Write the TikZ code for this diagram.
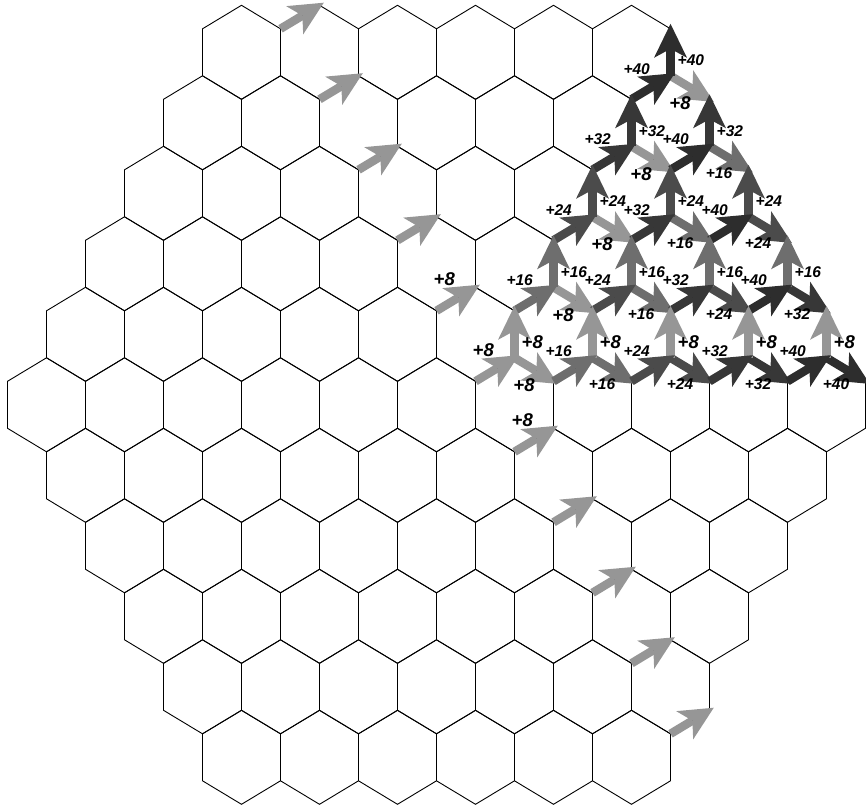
\documentclass[tikz,border=0pt]{standalone}
\usepackage{fontspec}
\newfontfamily\lblfont{Liberation Sans}
\usetikzlibrary{arrows.meta}
\definecolor{g8}{HTML}{969696}
\definecolor{g16}{HTML}{6E6E6E}
\definecolor{g24}{HTML}{4B4B4B}
\definecolor{g32}{HTML}{373737}
\definecolor{g40}{HTML}{2D2D2D}
\newcommand\gainlbl[1]{\ifnum#1<10 \fontsize{18.5}{19}\selectfont\else\fontsize{15.5}{16}\selectfont\fi+#1}
\tikzset{
  hexedge/.style={draw=black, line width=0.9pt, line join=miter},
  flow/.style={-{Stealth[length=34pt, width=33pt, inset=9pt, line width=0pt]}, line width=8.5pt, color=g#1, shorten >=-5pt},
  lbl/.style={font=\lblfont\bfseries\itshape, inner sep=0pt, text=black},
  inlbl/.style={lbl, anchor=south east, xshift=-1pt, yshift=13pt},
  uplbl/.style={lbl, anchor=west, xshift=7pt, yshift=-8pt},
  drlbl/.style={lbl, anchor=north, xshift=-10pt, yshift=-9pt},
}

\begin{document}
\begin{tikzpicture}[x=1pt, y=-1pt]
  \useasboundingbox (0,0) rectangle (866,805);
  % corners of the hex lattice
  \foreach \a in {0,...,22}
    \foreach \l in {0,...,23} {
      \pgfmathsetmacro\yy{5.3+70.5*floor(\l/2)+23.5*mod(\l,2)}
      \coordinate (p\a-\l) at ({7.5+39*\a}, \yy);
    }
  % board
  \foreach \j in {0,...,10} {
    \pgfmathtruncatemacro\off{abs(5-\j)}
    \pgfmathtruncatemacro\last{10-\off}
    \foreach \k in {0,...,\last} {
      \pgfmathtruncatemacro\a{\off+1+2*\k}
      \pgfmathtruncatemacro\al{\a-1}
      \pgfmathtruncatemacro\ar{\a+1}
      \pgfmathtruncatemacro\la{2*\j}
      \pgfmathtruncatemacro\lb{2*\j+1}
      \pgfmathtruncatemacro\lc{2*\j+2}
      \pgfmathtruncatemacro\ld{2*\j+3}
      \draw[hexedge] (p\a-\la) -- (p\ar-\lb) -- (p\ar-\lc) -- (p\a-\ld) -- (p\al-\lc) -- (p\al-\lb) -- cycle;
    }
  }
  % diagonal
  \foreach \k in {0,1,2,3,4,6,7,8,9,10} {
    \pgfmathtruncatemacro\s{7+\k}
    \pgfmathtruncatemacro\t{8+\k}
    \pgfmathtruncatemacro\la{2*\k}
    \pgfmathtruncatemacro\lb{2*\k+1}
    \draw[flow=8] (p\s-\lb) -- (p\t-\la);
  }
  \path (p11-9) -- node[midway, inlbl] {\gainlbl{8}} (p12-8);
  \path (p13-13) -- node[midway, inlbl] {\gainlbl{8}} (p14-12);
  % junctions of the triangle
  \foreach \r in {0,...,4}
    \foreach \c in {0,...,\r} {
      \pgfmathtruncatemacro\a{17-\r+2*\c}
      \pgfmathtruncatemacro\al{\a-1}
      \pgfmathtruncatemacro\ar{\a+1}
      \pgfmathtruncatemacro\l{2+2*\r}
      \pgfmathtruncatemacro\lu{\l-1}
      \pgfmathtruncatemacro\ld{\l+1}
      \pgfmathtruncatemacro\vin{8*(5-\r+\c)}
      \pgfmathtruncatemacro\vup{8*(5-\r)}
      \pgfmathtruncatemacro\vdr{8*(\c+1)}
      \draw[flow=\vdr] (p\a-\l) -- (p\ar-\ld);
      \draw[flow=\vup] (p\a-\l) -- (p\a-\lu);
      \draw[flow=\vin] (p\al-\ld) -- (p\a-\l);
    }
  % gains
  \foreach \r in {0,...,4}
    \foreach \c in {0,...,\r} {
      \pgfmathtruncatemacro\a{17-\r+2*\c}
      \pgfmathtruncatemacro\al{\a-1}
      \pgfmathtruncatemacro\ar{\a+1}
      \pgfmathtruncatemacro\l{2+2*\r}
      \pgfmathtruncatemacro\lu{\l-1}
      \pgfmathtruncatemacro\ld{\l+1}
      \pgfmathtruncatemacro\vin{8*(5-\r+\c)}
      \pgfmathtruncatemacro\vup{8*(5-\r)}
      \pgfmathtruncatemacro\vdr{8*(\c+1)}
      \path (p\al-\ld) -- node[midway, inlbl] {\gainlbl{\vin}} (p\a-\l);
      \path (p\a-\l) -- node[midway, uplbl] {\gainlbl{\vup}} (p\a-\lu);
      \path (p\a-\l) -- node[midway, drlbl] {\gainlbl{\vdr}} (p\ar-\ld);
    }
\end{tikzpicture}
\end{document}
